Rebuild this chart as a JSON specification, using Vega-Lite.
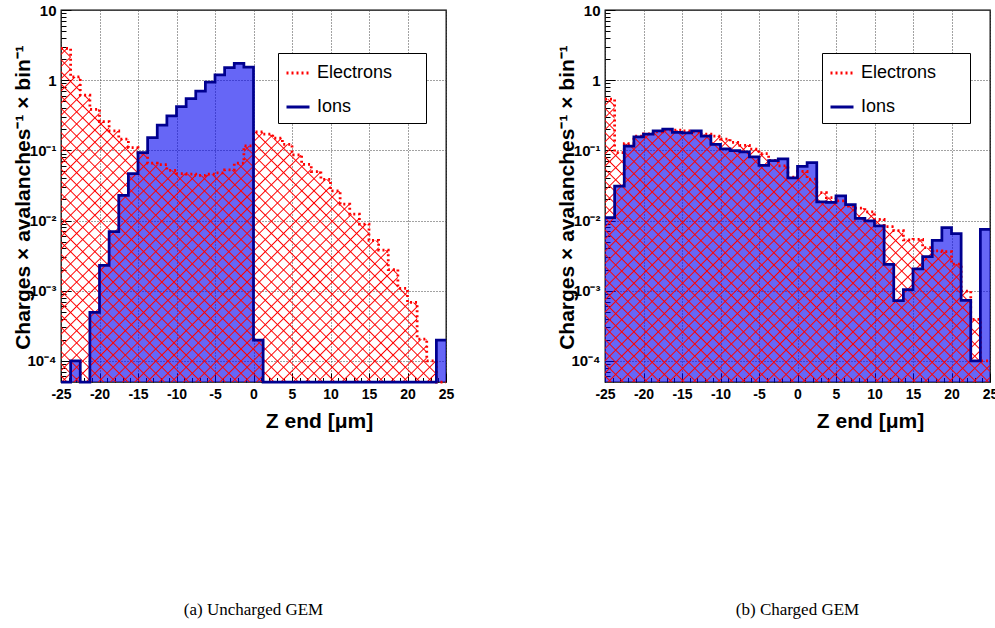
{
"$schema": "https://vega.github.io/schema/vega-lite/v6.json",
"background": "white",
"padding": {"left": 11, "top": 2, "right": 0, "bottom": 0},
"params": [
{"name": "hs", "value": [
{"offset":0.0062,"color":"#f000"},{"offset":0.008,"color":"red"},{"offset":0.0098,"color":"#f000"},
{"offset":0.0222,"color":"#f000"},{"offset":0.024,"color":"red"},{"offset":0.0258,"color":"#f000"},
{"offset":0.0382,"color":"#f000"},{"offset":0.04,"color":"red"},{"offset":0.0418,"color":"#f000"},
{"offset":0.0542,"color":"#f000"},{"offset":0.056,"color":"red"},{"offset":0.0578,"color":"#f000"},
{"offset":0.0702,"color":"#f000"},{"offset":0.072,"color":"red"},{"offset":0.0738,"color":"#f000"},
{"offset":0.0862,"color":"#f000"},{"offset":0.088,"color":"red"},{"offset":0.0898,"color":"#f000"},
{"offset":0.1022,"color":"#f000"},{"offset":0.104,"color":"red"},{"offset":0.1058,"color":"#f000"},
{"offset":0.1182,"color":"#f000"},{"offset":0.12,"color":"red"},{"offset":0.1218,"color":"#f000"},
{"offset":0.1342,"color":"#f000"},{"offset":0.136,"color":"red"},{"offset":0.1378,"color":"#f000"},
{"offset":0.1502,"color":"#f000"},{"offset":0.152,"color":"red"},{"offset":0.1538,"color":"#f000"},
{"offset":0.1662,"color":"#f000"},{"offset":0.168,"color":"red"},{"offset":0.1698,"color":"#f000"},
{"offset":0.1822,"color":"#f000"},{"offset":0.184,"color":"red"},{"offset":0.1858,"color":"#f000"},
{"offset":0.1982,"color":"#f000"},{"offset":0.2,"color":"red"},{"offset":0.2018,"color":"#f000"},
{"offset":0.2142,"color":"#f000"},{"offset":0.216,"color":"red"},{"offset":0.2178,"color":"#f000"},
{"offset":0.2302,"color":"#f000"},{"offset":0.232,"color":"red"},{"offset":0.2338,"color":"#f000"},
{"offset":0.2462,"color":"#f000"},{"offset":0.248,"color":"red"},{"offset":0.2498,"color":"#f000"},
{"offset":0.2622,"color":"#f000"},{"offset":0.264,"color":"red"},{"offset":0.2658,"color":"#f000"},
{"offset":0.2782,"color":"#f000"},{"offset":0.28,"color":"red"},{"offset":0.2818,"color":"#f000"},
{"offset":0.2942,"color":"#f000"},{"offset":0.296,"color":"red"},{"offset":0.2978,"color":"#f000"},
{"offset":0.3102,"color":"#f000"},{"offset":0.312,"color":"red"},{"offset":0.3138,"color":"#f000"},
{"offset":0.3262,"color":"#f000"},{"offset":0.328,"color":"red"},{"offset":0.3298,"color":"#f000"},
{"offset":0.3422,"color":"#f000"},{"offset":0.344,"color":"red"},{"offset":0.3458,"color":"#f000"},
{"offset":0.3582,"color":"#f000"},{"offset":0.36,"color":"red"},{"offset":0.3618,"color":"#f000"},
{"offset":0.3742,"color":"#f000"},{"offset":0.376,"color":"red"},{"offset":0.3778,"color":"#f000"},
{"offset":0.3902,"color":"#f000"},{"offset":0.392,"color":"red"},{"offset":0.3938,"color":"#f000"},
{"offset":0.4062,"color":"#f000"},{"offset":0.408,"color":"red"},{"offset":0.4098,"color":"#f000"},
{"offset":0.4222,"color":"#f000"},{"offset":0.424,"color":"red"},{"offset":0.4258,"color":"#f000"},
{"offset":0.4382,"color":"#f000"},{"offset":0.44,"color":"red"},{"offset":0.4418,"color":"#f000"},
{"offset":0.4542,"color":"#f000"},{"offset":0.456,"color":"red"},{"offset":0.4578,"color":"#f000"},
{"offset":0.4702,"color":"#f000"},{"offset":0.472,"color":"red"},{"offset":0.4738,"color":"#f000"},
{"offset":0.4862,"color":"#f000"},{"offset":0.488,"color":"red"},{"offset":0.4898,"color":"#f000"},
{"offset":0.5022,"color":"#f000"},{"offset":0.504,"color":"red"},{"offset":0.5058,"color":"#f000"},
{"offset":0.5182,"color":"#f000"},{"offset":0.52,"color":"red"},{"offset":0.5218,"color":"#f000"},
{"offset":0.5342,"color":"#f000"},{"offset":0.536,"color":"red"},{"offset":0.5378,"color":"#f000"},
{"offset":0.5502,"color":"#f000"},{"offset":0.552,"color":"red"},{"offset":0.5538,"color":"#f000"},
{"offset":0.5662,"color":"#f000"},{"offset":0.568,"color":"red"},{"offset":0.5698,"color":"#f000"},
{"offset":0.5822,"color":"#f000"},{"offset":0.584,"color":"red"},{"offset":0.5858,"color":"#f000"},
{"offset":0.5982,"color":"#f000"},{"offset":0.6,"color":"red"},{"offset":0.6018,"color":"#f000"},
{"offset":0.6142,"color":"#f000"},{"offset":0.616,"color":"red"},{"offset":0.6178,"color":"#f000"},
{"offset":0.6302,"color":"#f000"},{"offset":0.632,"color":"red"},{"offset":0.6338,"color":"#f000"},
{"offset":0.6462,"color":"#f000"},{"offset":0.648,"color":"red"},{"offset":0.6498,"color":"#f000"},
{"offset":0.6622,"color":"#f000"},{"offset":0.664,"color":"red"},{"offset":0.6658,"color":"#f000"},
{"offset":0.6782,"color":"#f000"},{"offset":0.68,"color":"red"},{"offset":0.6818,"color":"#f000"},
{"offset":0.6942,"color":"#f000"},{"offset":0.696,"color":"red"},{"offset":0.6978,"color":"#f000"},
{"offset":0.7102,"color":"#f000"},{"offset":0.712,"color":"red"},{"offset":0.7138,"color":"#f000"},
{"offset":0.7262,"color":"#f000"},{"offset":0.728,"color":"red"},{"offset":0.7298,"color":"#f000"},
{"offset":0.7422,"color":"#f000"},{"offset":0.744,"color":"red"},{"offset":0.7458,"color":"#f000"},
{"offset":0.7582,"color":"#f000"},{"offset":0.76,"color":"red"},{"offset":0.7618,"color":"#f000"},
{"offset":0.7742,"color":"#f000"},{"offset":0.776,"color":"red"},{"offset":0.7778,"color":"#f000"},
{"offset":0.7902,"color":"#f000"},{"offset":0.792,"color":"red"},{"offset":0.7938,"color":"#f000"},
{"offset":0.8062,"color":"#f000"},{"offset":0.808,"color":"red"},{"offset":0.8098,"color":"#f000"},
{"offset":0.8222,"color":"#f000"},{"offset":0.824,"color":"red"},{"offset":0.8258,"color":"#f000"},
{"offset":0.8382,"color":"#f000"},{"offset":0.84,"color":"red"},{"offset":0.8418,"color":"#f000"},
{"offset":0.8542,"color":"#f000"},{"offset":0.856,"color":"red"},{"offset":0.8578,"color":"#f000"},
{"offset":0.8702,"color":"#f000"},{"offset":0.872,"color":"red"},{"offset":0.8738,"color":"#f000"},
{"offset":0.8862,"color":"#f000"},{"offset":0.888,"color":"red"},{"offset":0.8898,"color":"#f000"},
{"offset":0.9022,"color":"#f000"},{"offset":0.904,"color":"red"},{"offset":0.9058,"color":"#f000"},
{"offset":0.9182,"color":"#f000"},{"offset":0.92,"color":"red"},{"offset":0.9218,"color":"#f000"},
{"offset":0.9342,"color":"#f000"},{"offset":0.936,"color":"red"},{"offset":0.9378,"color":"#f000"},
{"offset":0.9502,"color":"#f000"},{"offset":0.952,"color":"red"},{"offset":0.9538,"color":"#f000"}
]},
{"name": "gLA", "expr": "{gradient:'linear',x1:0,y1:0,x2:1.1277,y2:0.9781,stops:hs}"},
{"name": "gLB", "expr": "{gradient:'linear',x1:0,y1:1,x2:1.1277,y2:0.0219,stops:hs}"},
{"name": "gRA", "expr": "{gradient:'linear',x1:0,y1:0,x2:1.2829,y2:0.943,stops:hs}"},
{"name": "gRB", "expr": "{gradient:'linear',x1:0,y1:1,x2:1.2829,y2:0.057,stops:hs}"}
],
"data": {"values": [
{"p":"a","s":"Electrons","lo":-25,"hi":-23.75,"v":2.84},
{"p":"a","s":"Electrons","lo":-23.75,"hi":-22.5,"v":1.11},
{"p":"a","s":"Electrons","lo":-22.5,"hi":-21.25,"v":0.61},
{"p":"a","s":"Electrons","lo":-21.25,"hi":-20,"v":0.385},
{"p":"a","s":"Electrons","lo":-20,"hi":-18.75,"v":0.257},
{"p":"a","s":"Electrons","lo":-18.75,"hi":-17.5,"v":0.189},
{"p":"a","s":"Electrons","lo":-17.5,"hi":-16.25,"v":0.145},
{"p":"a","s":"Electrons","lo":-16.25,"hi":-15,"v":0.109},
{"p":"a","s":"Electrons","lo":-15,"hi":-13.75,"v":0.091},
{"p":"a","s":"Electrons","lo":-13.75,"hi":-12.5,"v":0.0655},
{"p":"a","s":"Electrons","lo":-12.5,"hi":-11.25,"v":0.0627},
{"p":"a","s":"Electrons","lo":-11.25,"hi":-10,"v":0.052},
{"p":"a","s":"Electrons","lo":-10,"hi":-8.75,"v":0.0467},
{"p":"a","s":"Electrons","lo":-8.75,"hi":-7.5,"v":0.046},
{"p":"a","s":"Electrons","lo":-7.5,"hi":-6.25,"v":0.044},
{"p":"a","s":"Electrons","lo":-6.25,"hi":-5,"v":0.0457},
{"p":"a","s":"Electrons","lo":-5,"hi":-3.75,"v":0.0477},
{"p":"a","s":"Electrons","lo":-3.75,"hi":-2.5,"v":0.0526},
{"p":"a","s":"Electrons","lo":-2.5,"hi":-1.25,"v":0.0655},
{"p":"a","s":"Electrons","lo":-1.25,"hi":0,"v":0.1156},
{"p":"a","s":"Electrons","lo":0,"hi":1.25,"v":0.183},
{"p":"a","s":"Electrons","lo":1.25,"hi":2.5,"v":0.17},
{"p":"a","s":"Electrons","lo":2.5,"hi":3.75,"v":0.149},
{"p":"a","s":"Electrons","lo":3.75,"hi":5,"v":0.122},
{"p":"a","s":"Electrons","lo":5,"hi":6.25,"v":0.086},
{"p":"a","s":"Electrons","lo":6.25,"hi":7.5,"v":0.063},
{"p":"a","s":"Electrons","lo":7.5,"hi":8.75,"v":0.0498},
{"p":"a","s":"Electrons","lo":8.75,"hi":10,"v":0.0387},
{"p":"a","s":"Electrons","lo":10,"hi":11.25,"v":0.0264},
{"p":"a","s":"Electrons","lo":11.25,"hi":12.5,"v":0.0171},
{"p":"a","s":"Electrons","lo":12.5,"hi":13.75,"v":0.0123},
{"p":"a","s":"Electrons","lo":13.75,"hi":15,"v":0.0089},
{"p":"a","s":"Electrons","lo":15,"hi":16.25,"v":0.0052},
{"p":"a","s":"Electrons","lo":16.25,"hi":17.5,"v":0.0038},
{"p":"a","s":"Electrons","lo":17.5,"hi":18.75,"v":0.002},
{"p":"a","s":"Electrons","lo":18.75,"hi":20,"v":0.00108},
{"p":"a","s":"Electrons","lo":20,"hi":21.25,"v":0.00068},
{"p":"a","s":"Electrons","lo":21.25,"hi":22.5,"v":0.000204},
{"p":"a","s":"Electrons","lo":22.5,"hi":23.75,"v":0.0001},
{"p":"a","s":"Electrons","lo":23.75,"hi":25,"v":0.000001},
{"p":"a","s":"Ions","lo":-25,"hi":-23.75,"v":0.000001},
{"p":"a","s":"Ions","lo":-23.75,"hi":-22.5,"v":0.0001},
{"p":"a","s":"Ions","lo":-22.5,"hi":-21.25,"v":0.000001},
{"p":"a","s":"Ions","lo":-21.25,"hi":-20,"v":0.00049},
{"p":"a","s":"Ions","lo":-20,"hi":-18.75,"v":0.0023},
{"p":"a","s":"Ions","lo":-18.75,"hi":-17.5,"v":0.00695},
{"p":"a","s":"Ions","lo":-17.5,"hi":-16.25,"v":0.0229},
{"p":"a","s":"Ions","lo":-16.25,"hi":-15,"v":0.0467},
{"p":"a","s":"Ions","lo":-15,"hi":-13.75,"v":0.093},
{"p":"a","s":"Ions","lo":-13.75,"hi":-12.5,"v":0.152},
{"p":"a","s":"Ions","lo":-12.5,"hi":-11.25,"v":0.228},
{"p":"a","s":"Ions","lo":-11.25,"hi":-10,"v":0.309},
{"p":"a","s":"Ions","lo":-10,"hi":-8.75,"v":0.42},
{"p":"a","s":"Ions","lo":-8.75,"hi":-7.5,"v":0.546},
{"p":"a","s":"Ions","lo":-7.5,"hi":-6.25,"v":0.7},
{"p":"a","s":"Ions","lo":-6.25,"hi":-5,"v":0.94},
{"p":"a","s":"Ions","lo":-5,"hi":-3.75,"v":1.19},
{"p":"a","s":"Ions","lo":-3.75,"hi":-2.5,"v":1.51},
{"p":"a","s":"Ions","lo":-2.5,"hi":-1.25,"v":1.74},
{"p":"a","s":"Ions","lo":-1.25,"hi":0,"v":1.54},
{"p":"a","s":"Ions","lo":0,"hi":1.25,"v":0.000197},
{"p":"a","s":"Ions","lo":1.25,"hi":2.5,"v":0.000001},
{"p":"a","s":"Ions","lo":2.5,"hi":3.75,"v":0.000001},
{"p":"a","s":"Ions","lo":3.75,"hi":5,"v":0.000001},
{"p":"a","s":"Ions","lo":5,"hi":6.25,"v":0.000001},
{"p":"a","s":"Ions","lo":6.25,"hi":7.5,"v":0.000001},
{"p":"a","s":"Ions","lo":7.5,"hi":8.75,"v":0.000001},
{"p":"a","s":"Ions","lo":8.75,"hi":10,"v":0.000001},
{"p":"a","s":"Ions","lo":10,"hi":11.25,"v":0.000001},
{"p":"a","s":"Ions","lo":11.25,"hi":12.5,"v":0.000001},
{"p":"a","s":"Ions","lo":12.5,"hi":13.75,"v":0.000001},
{"p":"a","s":"Ions","lo":13.75,"hi":15,"v":0.000001},
{"p":"a","s":"Ions","lo":15,"hi":16.25,"v":0.000001},
{"p":"a","s":"Ions","lo":16.25,"hi":17.5,"v":0.000001},
{"p":"a","s":"Ions","lo":17.5,"hi":18.75,"v":0.000001},
{"p":"a","s":"Ions","lo":18.75,"hi":20,"v":0.000001},
{"p":"a","s":"Ions","lo":20,"hi":21.25,"v":0.000001},
{"p":"a","s":"Ions","lo":21.25,"hi":22.5,"v":0.000001},
{"p":"a","s":"Ions","lo":22.5,"hi":23.75,"v":0.000001},
{"p":"a","s":"Ions","lo":23.75,"hi":25,"v":0.000197},
{"p":"b","s":"Electrons","lo":-25,"hi":-23.75,"v":0.535},
{"p":"b","s":"Electrons","lo":-23.75,"hi":-22.5,"v":0.093},
{"p":"b","s":"Electrons","lo":-22.5,"hi":-21.25,"v":0.125},
{"p":"b","s":"Electrons","lo":-21.25,"hi":-20,"v":0.16},
{"p":"b","s":"Electrons","lo":-20,"hi":-18.75,"v":0.172},
{"p":"b","s":"Electrons","lo":-18.75,"hi":-17.5,"v":0.184},
{"p":"b","s":"Electrons","lo":-17.5,"hi":-16.25,"v":0.194},
{"p":"b","s":"Electrons","lo":-16.25,"hi":-15,"v":0.194},
{"p":"b","s":"Electrons","lo":-15,"hi":-13.75,"v":0.189},
{"p":"b","s":"Electrons","lo":-13.75,"hi":-12.5,"v":0.184},
{"p":"b","s":"Electrons","lo":-12.5,"hi":-11.25,"v":0.17},
{"p":"b","s":"Electrons","lo":-11.25,"hi":-10,"v":0.16},
{"p":"b","s":"Electrons","lo":-10,"hi":-8.75,"v":0.145},
{"p":"b","s":"Electrons","lo":-8.75,"hi":-7.5,"v":0.13},
{"p":"b","s":"Electrons","lo":-7.5,"hi":-6.25,"v":0.118},
{"p":"b","s":"Electrons","lo":-6.25,"hi":-5,"v":0.104},
{"p":"b","s":"Electrons","lo":-5,"hi":-3.75,"v":0.0895},
{"p":"b","s":"Electrons","lo":-3.75,"hi":-2.5,"v":0.072},
{"p":"b","s":"Electrons","lo":-2.5,"hi":-1.25,"v":0.06},
{"p":"b","s":"Electrons","lo":-1.25,"hi":0,"v":0.0415},
{"p":"b","s":"Electrons","lo":0,"hi":1.25,"v":0.05},
{"p":"b","s":"Electrons","lo":1.25,"hi":2.5,"v":0.039},
{"p":"b","s":"Electrons","lo":2.5,"hi":3.75,"v":0.0249},
{"p":"b","s":"Electrons","lo":3.75,"hi":5,"v":0.0212},
{"p":"b","s":"Electrons","lo":5,"hi":6.25,"v":0.019},
{"p":"b","s":"Electrons","lo":6.25,"hi":7.5,"v":0.0161},
{"p":"b","s":"Electrons","lo":7.5,"hi":8.75,"v":0.015},
{"p":"b","s":"Electrons","lo":8.75,"hi":10,"v":0.0133},
{"p":"b","s":"Electrons","lo":10,"hi":11.25,"v":0.0104},
{"p":"b","s":"Electrons","lo":11.25,"hi":12.5,"v":0.0082},
{"p":"b","s":"Electrons","lo":12.5,"hi":13.75,"v":0.0072},
{"p":"b","s":"Electrons","lo":13.75,"hi":15,"v":0.0053},
{"p":"b","s":"Electrons","lo":15,"hi":16.25,"v":0.0054},
{"p":"b","s":"Electrons","lo":16.25,"hi":17.5,"v":0.0041},
{"p":"b","s":"Electrons","lo":17.5,"hi":18.75,"v":0.0037},
{"p":"b","s":"Electrons","lo":18.75,"hi":20,"v":0.0036},
{"p":"b","s":"Electrons","lo":20,"hi":21.25,"v":0.0024},
{"p":"b","s":"Electrons","lo":21.25,"hi":22.5,"v":0.00099},
{"p":"b","s":"Electrons","lo":22.5,"hi":23.75,"v":0.00039},
{"p":"b","s":"Electrons","lo":23.75,"hi":25,"v":0.0001},
{"p":"b","s":"Ions","lo":-25,"hi":-23.75,"v":0.011},
{"p":"b","s":"Ions","lo":-23.75,"hi":-22.5,"v":0.031},
{"p":"b","s":"Ions","lo":-22.5,"hi":-21.25,"v":0.115},
{"p":"b","s":"Ions","lo":-21.25,"hi":-20,"v":0.155},
{"p":"b","s":"Ions","lo":-20,"hi":-18.75,"v":0.17},
{"p":"b","s":"Ions","lo":-18.75,"hi":-17.5,"v":0.19},
{"p":"b","s":"Ions","lo":-17.5,"hi":-16.25,"v":0.2},
{"p":"b","s":"Ions","lo":-16.25,"hi":-15,"v":0.18},
{"p":"b","s":"Ions","lo":-15,"hi":-13.75,"v":0.178},
{"p":"b","s":"Ions","lo":-13.75,"hi":-12.5,"v":0.19},
{"p":"b","s":"Ions","lo":-12.5,"hi":-11.25,"v":0.16},
{"p":"b","s":"Ions","lo":-11.25,"hi":-10,"v":0.122},
{"p":"b","s":"Ions","lo":-10,"hi":-8.75,"v":0.105},
{"p":"b","s":"Ions","lo":-8.75,"hi":-7.5,"v":0.099},
{"p":"b","s":"Ions","lo":-7.5,"hi":-6.25,"v":0.095},
{"p":"b","s":"Ions","lo":-6.25,"hi":-5,"v":0.081},
{"p":"b","s":"Ions","lo":-5,"hi":-3.75,"v":0.061},
{"p":"b","s":"Ions","lo":-3.75,"hi":-2.5,"v":0.0712},
{"p":"b","s":"Ions","lo":-2.5,"hi":-1.25,"v":0.0755},
{"p":"b","s":"Ions","lo":-1.25,"hi":0,"v":0.0405},
{"p":"b","s":"Ions","lo":0,"hi":1.25,"v":0.059},
{"p":"b","s":"Ions","lo":1.25,"hi":2.5,"v":0.0667},
{"p":"b","s":"Ions","lo":2.5,"hi":3.75,"v":0.0185},
{"p":"b","s":"Ions","lo":3.75,"hi":5,"v":0.0181},
{"p":"b","s":"Ions","lo":5,"hi":6.25,"v":0.0224},
{"p":"b","s":"Ions","lo":6.25,"hi":7.5,"v":0.0168},
{"p":"b","s":"Ions","lo":7.5,"hi":8.75,"v":0.0107},
{"p":"b","s":"Ions","lo":8.75,"hi":10,"v":0.0099},
{"p":"b","s":"Ions","lo":10,"hi":11.25,"v":0.0084},
{"p":"b","s":"Ions","lo":11.25,"hi":12.5,"v":0.00238},
{"p":"b","s":"Ions","lo":12.5,"hi":13.75,"v":0.00072},
{"p":"b","s":"Ions","lo":13.75,"hi":15,"v":0.00104},
{"p":"b","s":"Ions","lo":15,"hi":16.25,"v":0.00205},
{"p":"b","s":"Ions","lo":16.25,"hi":17.5,"v":0.00305},
{"p":"b","s":"Ions","lo":17.5,"hi":18.75,"v":0.0052},
{"p":"b","s":"Ions","lo":18.75,"hi":20,"v":0.0079},
{"p":"b","s":"Ions","lo":20,"hi":21.25,"v":0.0065},
{"p":"b","s":"Ions","lo":21.25,"hi":22.5,"v":0.00073},
{"p":"b","s":"Ions","lo":22.5,"hi":23.75,"v":0.0001},
{"p":"b","s":"Ions","lo":23.75,"hi":25,"v":0.0075}
]},
"spacing": 159,
"bounds": "flush",
"resolve": {
  "scale": {"x": "independent", "y": "independent", "color": "independent", "strokeDash": "independent"},
  "axis": {"x": "independent", "y": "independent"},
  "legend": {"color": "independent", "strokeDash": "independent"}
},
"hconcat": [
{
  "width": 385, "height": 372,
  "title": {"text": "(a) Uncharged GEM", "orient": "bottom", "anchor": "middle", "offset": 171, "font": "Liberation Serif", "fontSize": 17, "fontWeight": "normal", "color": "black"},
  "transform": [{"filter": "datum.p == 'a'"}, {"fold": ["lo", "hi"], "as": ["edge", "x"]}],
  "encoding": {
    "x": {"field": "x", "type": "quantitative",
      "scale": {"domain": [-25, 25], "nice": false, "zero": false},
      "axis": {"values": [-25,-24,-23,-22,-21,-20,-19,-18,-17,-16,-15,-14,-13,-12,-11,-10,-9,-8,-7,-6,-5,-4,-3,-2,-1,0,1,2,3,4,5,6,7,8,9,10,11,12,13,14,15,16,17,18,19,20,21,22,23,24,25],
        "labelExpr": "datum.value % 5 == 0 ? '' + datum.value : ''",
        "labelPadding": 14,
        "tickSize": {"condition": {"test": "datum.value % 5 == 0", "value": -9}, "value": -4.5},
        "gridOpacity": {"condition": {"test": "datum.value % 5 == 0", "value": 1}, "value": 0},
        "title": "Z end [μm]", "titleFontSize": 21, "titleX": 258, "titleY": 45, "titleAlign": "center", "titleBaseline": "alphabetic"}},
    "y": {"field": "v", "type": "quantitative",
      "scale": {"type": "log", "domain": [0.00005, 10], "nice": false, "clamp": true},
      "axis": {"values": [0.00006,0.00007,0.00008,0.00009,0.0001,0.0002,0.0003,0.0004,0.0005,0.0006,0.0007,0.0008,0.0009,0.001,0.002,0.003,0.004,0.005,0.006,0.007,0.008,0.009,0.01,0.02,0.03,0.04,0.05,0.06,0.07,0.08,0.09,0.1,0.2,0.3,0.4,0.5,0.6,0.7,0.8,0.9,1,2,3,4,5,6,7,8,9,10],
        "labelExpr": "abs(log(datum.value)/LN10 - round(log(datum.value)/LN10)) > 0.01 ? '' : datum.value > 5 ? '10' : datum.value > 0.5 ? '1' : datum.value > 0.05 ? '10⁻¹' : datum.value > 0.005 ? '10⁻²' : datum.value > 0.0005 ? '10⁻³' : '10⁻⁴'",
        "labelPadding": 15, "labelFontSize": 15,
        "tickSize": {"condition": {"test": "abs(log(datum.value)/LN10 - round(log(datum.value)/LN10)) < 0.01", "value": -10}, "value": -5},
        "gridOpacity": {"condition": {"test": "abs(log(datum.value)/LN10 - round(log(datum.value)/LN10)) < 0.01", "value": 1}, "value": 0},
        "title": "Charges × avalanches⁻¹ × bin⁻¹", "titleFontSize": 21, "titleX": -32, "titleY": 187, "titleAlign": "center", "titleBaseline": "alphabetic"}},
    "order": [{"field": "x", "type": "quantitative"}, {"field": "edge", "type": "ordinal"}]
  },
  "layer": [
    {"transform": [{"filter": "datum.s == 'Ions'"}], "mark": {"type": "area", "fill": "#0000f0", "fillOpacity": 0.6, "strokeWidth": 0}, "encoding": {"y2": {"datum": 0.00005}}},
    {"transform": [{"filter": "datum.s == 'Electrons'"}], "mark": {"type": "area", "fill": {"expr": "gLA"}, "opacity": 1, "strokeWidth": 0}, "encoding": {"y2": {"datum": 0.00005}}},
    {"transform": [{"filter": "datum.s == 'Electrons'"}], "mark": {"type": "area", "fill": {"expr": "gLB"}, "opacity": 1, "strokeWidth": 0}, "encoding": {"y2": {"datum": 0.00005}}},
    {"mark": {"type": "line", "strokeWidth": 2.75, "strokeCap": "butt"},
     "encoding": {
       "color": {"field": "s", "type": "nominal", "scale": {"domain": ["Electrons", "Ions"], "range": ["#ff0000", "#00008f"]},
         "legend": {"orient": "none", "legendX": 217, "legendY": 43, "title": null, "strokeColor": "black", "fillColor": "white", "padding": 7, "symbolType": "stroke", "symbolSize": 529, "symbolStrokeWidth": 3, "labelFont": "Liberation Sans", "labelFontSize": 18, "labelColor": "black", "labelOffset": 6, "rowPadding": 12, "labelExpr": "datum.label + '\u2800\u2800'"}},
       "strokeDash": {"field": "s", "type": "nominal", "scale": {"domain": ["Electrons", "Ions"], "range": [[2, 3], [1, 0]]},
         "legend": {"orient": "none", "legendX": 217, "legendY": 43, "title": null, "strokeColor": "black", "fillColor": "white", "padding": 7, "symbolType": "stroke", "symbolSize": 529, "symbolStrokeWidth": 3, "labelFont": "Liberation Sans", "labelFontSize": 18, "labelColor": "black", "labelOffset": 6, "rowPadding": 12, "labelExpr": "datum.label + '\u2800\u2800'"}}
     }}
  ]
},
{
  "width": 385, "height": 372,
  "title": {"text": "(b) Charged GEM", "orient": "bottom", "anchor": "middle", "offset": 171, "font": "Liberation Serif", "fontSize": 17, "fontWeight": "normal", "color": "black"},
  "transform": [{"filter": "datum.p == 'b'"}, {"fold": ["lo", "hi"], "as": ["edge", "x"]}],
  "encoding": {
    "x": {"field": "x", "type": "quantitative",
      "scale": {"domain": [-25, 25], "nice": false, "zero": false},
      "axis": {"values": [-25,-24,-23,-22,-21,-20,-19,-18,-17,-16,-15,-14,-13,-12,-11,-10,-9,-8,-7,-6,-5,-4,-3,-2,-1,0,1,2,3,4,5,6,7,8,9,10,11,12,13,14,15,16,17,18,19,20,21,22,23,24,25],
        "labelExpr": "datum.value % 5 == 0 ? '' + datum.value : ''",
        "labelPadding": 14,
        "tickSize": {"condition": {"test": "datum.value % 5 == 0", "value": -9}, "value": -4.5},
        "gridOpacity": {"condition": {"test": "datum.value % 5 == 0", "value": 1}, "value": 0},
        "title": "Z end [μm]", "titleFontSize": 21, "titleX": 265, "titleY": 45, "titleAlign": "center", "titleBaseline": "alphabetic"}},
    "y": {"field": "v", "type": "quantitative",
      "scale": {"type": "log", "domain": [0.00005, 10], "nice": false, "clamp": true},
      "axis": {"values": [0.00006,0.00007,0.00008,0.00009,0.0001,0.0002,0.0003,0.0004,0.0005,0.0006,0.0007,0.0008,0.0009,0.001,0.002,0.003,0.004,0.005,0.006,0.007,0.008,0.009,0.01,0.02,0.03,0.04,0.05,0.06,0.07,0.08,0.09,0.1,0.2,0.3,0.4,0.5,0.6,0.7,0.8,0.9,1,2,3,4,5,6,7,8,9,10],
        "labelExpr": "abs(log(datum.value)/LN10 - round(log(datum.value)/LN10)) > 0.01 ? '' : datum.value > 5 ? '10' : datum.value > 0.5 ? '1' : datum.value > 0.05 ? '10⁻¹' : datum.value > 0.005 ? '10⁻²' : datum.value > 0.0005 ? '10⁻³' : '10⁻⁴'",
        "labelPadding": 15, "labelFontSize": 15,
        "tickSize": {"condition": {"test": "abs(log(datum.value)/LN10 - round(log(datum.value)/LN10)) < 0.01", "value": -10}, "value": -5},
        "gridOpacity": {"condition": {"test": "abs(log(datum.value)/LN10 - round(log(datum.value)/LN10)) < 0.01", "value": 1}, "value": 0},
        "title": "Charges × avalanches⁻¹ × bin⁻¹", "titleFontSize": 21, "titleX": -32, "titleY": 187, "titleAlign": "center", "titleBaseline": "alphabetic"}},
    "order": [{"field": "x", "type": "quantitative"}, {"field": "edge", "type": "ordinal"}]
  },
  "layer": [
    {"transform": [{"filter": "datum.s == 'Ions'"}], "mark": {"type": "area", "fill": "#0000f0", "fillOpacity": 0.6, "strokeWidth": 0}, "encoding": {"y2": {"datum": 0.00005}}},
    {"transform": [{"filter": "datum.s == 'Electrons'"}], "mark": {"type": "area", "fill": {"expr": "gRA"}, "opacity": 1, "strokeWidth": 0}, "encoding": {"y2": {"datum": 0.00005}}},
    {"transform": [{"filter": "datum.s == 'Electrons'"}], "mark": {"type": "area", "fill": {"expr": "gRB"}, "opacity": 1, "strokeWidth": 0}, "encoding": {"y2": {"datum": 0.00005}}},
    {"mark": {"type": "line", "strokeWidth": 2.75, "strokeCap": "butt"},
     "encoding": {
       "color": {"field": "s", "type": "nominal", "scale": {"domain": ["Electrons", "Ions"], "range": ["#ff0000", "#00008f"]},
         "legend": {"orient": "none", "legendX": 217, "legendY": 43, "title": null, "strokeColor": "black", "fillColor": "white", "padding": 7, "symbolType": "stroke", "symbolSize": 529, "symbolStrokeWidth": 3, "labelFont": "Liberation Sans", "labelFontSize": 18, "labelColor": "black", "labelOffset": 6, "rowPadding": 12, "labelExpr": "datum.label + '\u2800\u2800'"}},
       "strokeDash": {"field": "s", "type": "nominal", "scale": {"domain": ["Electrons", "Ions"], "range": [[2, 3], [1, 0]]},
         "legend": {"orient": "none", "legendX": 217, "legendY": 43, "title": null, "strokeColor": "black", "fillColor": "white", "padding": 7, "symbolType": "stroke", "symbolSize": 529, "symbolStrokeWidth": 3, "labelFont": "Liberation Sans", "labelFontSize": 18, "labelColor": "black", "labelOffset": 6, "rowPadding": 12, "labelExpr": "datum.label + '\u2800\u2800'"}}
     }}
  ]
}
],
"config": {
  "view": {"stroke": "black", "strokeWidth": 1.3},
  "font": "Liberation Sans",
  "axis": {"labelFont": "Liberation Sans", "labelFontWeight": "bold", "labelFontSize": 14, "labelColor": "black", "labelFlush": false, "labelOverlap": false,
    "titleFont": "Liberation Sans", "titleFontWeight": "bold", "titleColor": "black",
    "domain": false, "tickColor": "black", "tickWidth": 1,
    "gridColor": "#444", "gridDash": [1, 2], "gridWidth": 1}
}
}
